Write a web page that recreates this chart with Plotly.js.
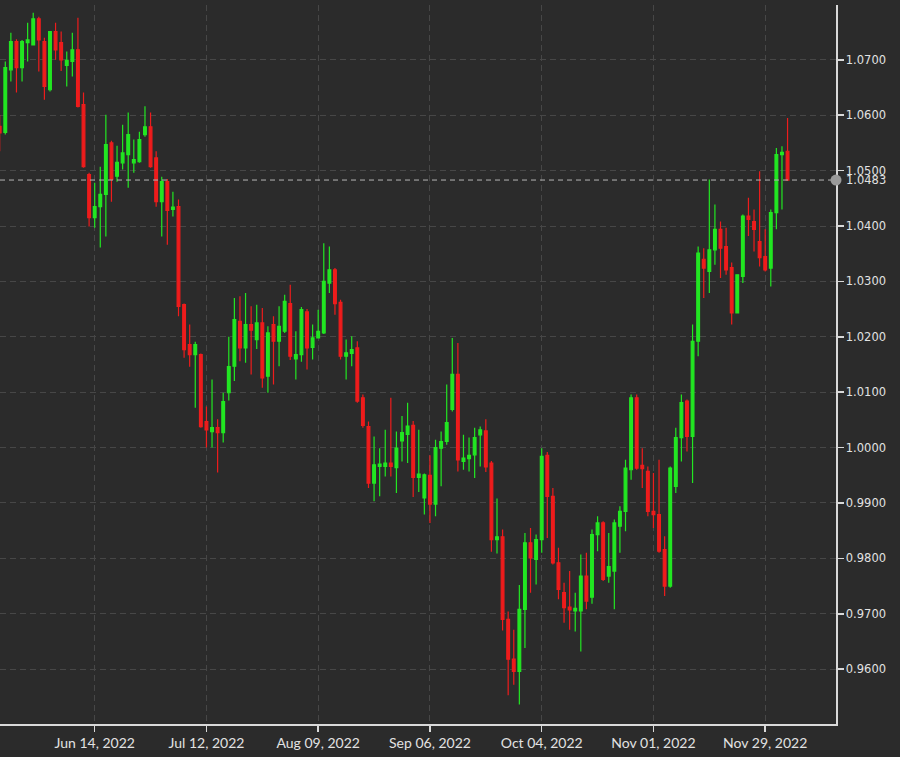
<!DOCTYPE html>
<html>
<head>
<meta charset="utf-8">
<script src="https://cdn.plot.ly/plotly-3.0.1.min.js"></script>
<style>
  html, body { margin: 0; padding: 0; background: #2b2b2b; }
  #chart { width: 900px; height: 757px; }
</style>
</head>
<body>
<div id="chart"></div>
<script>
// EUR/USD daily candles
const dates = [
  '2022-05-20','2022-05-23','2022-05-24','2022-05-25','2022-05-26','2022-05-27','2022-05-30','2022-05-31',
  '2022-06-01','2022-06-02','2022-06-03','2022-06-06','2022-06-07','2022-06-08','2022-06-09','2022-06-10',
  '2022-06-13','2022-06-14','2022-06-15','2022-06-16','2022-06-17','2022-06-20','2022-06-21','2022-06-22',
  '2022-06-23','2022-06-24','2022-06-27','2022-06-28','2022-06-29','2022-06-30','2022-07-01','2022-07-04',
  '2022-07-05','2022-07-06','2022-07-07','2022-07-08','2022-07-11','2022-07-12','2022-07-13','2022-07-14',
  '2022-07-15','2022-07-18','2022-07-19','2022-07-20','2022-07-21','2022-07-22','2022-07-25','2022-07-26',
  '2022-07-27','2022-07-28','2022-07-29','2022-08-01','2022-08-02','2022-08-03','2022-08-04','2022-08-05',
  '2022-08-08','2022-08-09','2022-08-10','2022-08-11','2022-08-12','2022-08-15','2022-08-16','2022-08-17',
  '2022-08-18','2022-08-19','2022-08-22','2022-08-23','2022-08-24','2022-08-25','2022-08-26','2022-08-29',
  '2022-08-30','2022-08-31','2022-09-01','2022-09-02','2022-09-05','2022-09-06','2022-09-07','2022-09-08',
  '2022-09-09','2022-09-12','2022-09-13','2022-09-14','2022-09-15','2022-09-16','2022-09-19','2022-09-20',
  '2022-09-21','2022-09-22','2022-09-23','2022-09-26','2022-09-27','2022-09-28','2022-09-29','2022-09-30',
  '2022-10-03','2022-10-04','2022-10-05','2022-10-06','2022-10-07','2022-10-10','2022-10-11','2022-10-12',
  '2022-10-13','2022-10-14','2022-10-17','2022-10-18','2022-10-19','2022-10-20','2022-10-21','2022-10-24',
  '2022-10-25','2022-10-26','2022-10-27','2022-10-28','2022-10-31','2022-11-01','2022-11-02','2022-11-03',
  '2022-11-04','2022-11-07','2022-11-08','2022-11-09','2022-11-10','2022-11-11','2022-11-14','2022-11-15',
  '2022-11-16','2022-11-17','2022-11-18','2022-11-21','2022-11-22','2022-11-23','2022-11-24','2022-11-25',
  '2022-11-28','2022-11-29','2022-11-30','2022-12-01','2022-12-02','2022-12-05'
];
const openP = [
  1.0580,1.0569,1.0682,1.0733,1.0686,1.0731,1.0727,1.0774,
  1.0733,1.0646,1.0751,1.0731,1.0690,1.0697,1.0718,1.0619,
  1.0493,1.0415,1.0435,1.0457,1.0550,1.0490,1.0514,1.0529,
  1.0514,1.0516,1.0565,1.0579,1.0523,1.0444,1.0480,1.0430,
  1.0435,1.0258,1.0186,1.0168,1.0168,1.0047,1.0029,1.0036,
  1.0027,1.0099,1.0147,1.0228,1.0180,1.0222,1.0195,1.0225,
  1.0129,1.0222,1.0192,1.0210,1.0260,1.0160,1.0168,1.0245,
  1.0181,1.0198,1.0207,1.0297,1.0321,1.0262,1.0165,1.0170,
  1.0180,1.0090,1.0038,0.9936,0.9966,0.9966,0.9972,0.9964,
  1.0012,1.0024,1.0040,0.9946,0.9909,0.9950,0.9898,0.9999,
  1.0011,1.0069,1.0132,0.9975,0.9980,0.9987,1.0023,1.0030,
  0.9972,0.9834,0.9839,0.9690,0.9618,0.9596,0.9708,0.9828,
  0.9798,0.9834,0.9986,0.9912,0.9792,0.9738,0.9712,0.9705,
  0.9705,0.9768,0.9730,0.9843,0.9864,0.9768,0.9777,0.9858,
  0.9885,0.9960,1.0090,0.9968,0.9957,0.9885,0.9879,0.9816,
  0.9750,0.9930,1.0018,1.0084,1.0020,1.0192,1.0340,1.0318,
  1.0357,1.0394,1.0363,1.0325,1.0243,1.0309,1.0418,1.0408,
  1.0372,1.0345,1.0324,1.0424,1.0529,1.0535
];
const highP = [
  1.0600,1.0697,1.0749,1.0737,1.0736,1.0767,1.0785,1.0778,
  1.0740,1.0751,1.0767,1.0751,1.0715,1.0749,1.0776,1.0641,
  1.0496,1.0478,1.0507,1.0601,1.0554,1.0545,1.0583,1.0605,
  1.0556,1.0570,1.0616,1.0605,1.0535,1.0489,1.0485,1.0462,
  1.0448,1.0260,1.0222,1.0191,1.0170,1.0074,1.0123,1.0051,
  1.0099,1.0200,1.0270,1.0273,1.0279,1.0255,1.0258,1.0252,
  1.0219,1.0237,1.0255,1.0276,1.0294,1.0210,1.0254,1.0250,
  1.0222,1.0249,1.0369,1.0363,1.0324,1.0267,1.0195,1.0201,
  1.0192,1.0096,1.0047,1.0020,0.9999,1.0032,1.0090,1.0029,
  1.0057,1.0081,1.0048,1.0032,0.9953,0.9986,1.0014,1.0029,
  1.0114,1.0198,1.0189,1.0023,1.0018,1.0036,1.0038,1.0051,
  0.9976,0.9908,0.9852,0.9704,0.9671,0.9752,0.9846,0.9855,
  0.9843,0.9999,0.9992,0.9927,0.9819,0.9756,0.9777,0.9738,
  0.9807,0.9810,0.9852,0.9876,0.9867,0.9846,0.9870,0.9894,
  0.9978,1.0096,1.0096,0.9999,0.9966,0.9954,0.9978,0.9840,
  0.9966,1.0036,1.0096,1.0087,1.0222,1.0363,1.0360,1.0484,
  1.0439,1.0408,1.0397,1.0334,1.0312,1.0421,1.0451,1.0430,
  1.0499,1.0394,1.0430,1.0541,1.0544,1.0595
];
const lowP = [
  1.0535,1.0565,1.0661,1.0641,1.0661,1.0697,1.0727,1.0679,
  1.0628,1.0643,1.0700,1.0680,1.0652,1.0670,1.0614,1.0505,
  1.0399,1.0397,1.0361,1.0381,1.0444,1.0480,1.0502,1.0469,
  1.0496,1.0514,1.0561,1.0505,1.0435,1.0381,1.0366,1.0417,
  1.0237,1.0162,1.0146,1.0072,1.0036,1.0000,1.0000,0.9955,
  1.0009,1.0085,1.0120,1.0156,1.0153,1.0132,1.0178,1.0108,
  1.0099,1.0114,1.0147,1.0207,1.0158,1.0123,1.0155,1.0141,
  1.0159,1.0197,1.0205,1.0279,1.0240,1.0159,1.0123,1.0147,
  1.0081,1.0036,0.9927,0.9903,0.9912,0.9948,0.9948,0.9918,
  0.9975,0.9972,0.9911,0.9920,0.9879,0.9864,0.9876,0.9930,
  1.0005,1.0065,0.9957,0.9960,0.9957,0.9945,0.9966,0.9956,
  0.9812,0.9809,0.9670,0.9553,0.9572,0.9536,0.9638,0.9738,
  0.9753,0.9810,0.9837,0.9789,0.9726,0.9684,0.9671,0.9668,
  0.9632,0.9708,0.9718,0.9813,0.9759,0.9756,0.9708,0.9810,
  0.9849,0.9942,0.9960,0.9927,0.9876,0.9855,0.9810,0.9732,
  0.9747,0.9918,0.9975,0.9993,0.9936,1.0165,1.0270,1.0279,
  1.0330,1.0306,1.0312,1.0222,1.0243,1.0297,1.0382,1.0354,
  1.0327,1.0318,1.0291,1.0394,1.0430,1.0483
];
const closeP = [
  1.0568,1.0686,1.0733,1.0686,1.0733,1.0736,1.0774,1.0736,
  1.0652,1.0751,1.0718,1.0700,1.0699,1.0718,1.0616,1.0507,
  1.0415,1.0435,1.0457,1.0547,1.0484,1.0515,1.0532,1.0565,
  1.0520,1.0556,1.0579,1.0507,1.0444,1.0480,1.0428,1.0434,
  1.0255,1.0177,1.0168,1.0186,1.0038,1.0032,1.0036,1.0027,
  1.0083,1.0146,1.0231,1.0180,1.0222,1.0212,1.0225,1.0126,
  1.0207,1.0192,1.0219,1.0264,1.0165,1.0168,1.0249,1.0180,
  1.0198,1.0210,1.0300,1.0321,1.0260,1.0165,1.0171,1.0177,
  1.0084,1.0040,0.9936,0.9969,0.9970,0.9972,0.9966,0.9999,
  1.0027,1.0039,0.9946,0.9952,0.9951,0.9898,1.0000,1.0011,
  1.0045,1.0132,0.9978,0.9981,0.9986,1.0018,1.0032,0.9965,
  0.9834,0.9839,0.9690,0.9618,0.9596,0.9708,0.9828,0.9801,
  0.9834,0.9984,0.9912,0.9792,0.9744,0.9711,0.9707,0.9710,
  0.9768,0.9723,0.9843,0.9864,0.9762,0.9785,0.9864,0.9885,
  0.9963,1.0090,0.9963,0.9962,0.9885,0.9879,0.9813,0.9750,
  0.9963,1.0018,1.0081,1.0020,1.0192,1.0351,1.0324,1.0357,
  1.0394,1.0360,1.0321,1.0243,1.0312,1.0418,1.0412,1.0394,
  1.0343,1.0321,1.0424,1.0529,1.0533,1.0483
];
const xTickVals = ['2022-06-14','2022-07-12','2022-08-09','2022-09-06','2022-10-04','2022-11-01','2022-11-29'];
const lastPrice = 1.0483;
const lastLabel = '1.0483';

const GREEN = '#22e622';
const RED = '#ee1c1c';
const GRID = '#474747';
const AXIS = '#d9d9d9';
const TXT = '#e2e2e2';

const trace = {
  type: 'candlestick',
  x: dates, open: openP, high: highP, low: lowP, close: closeP,
  increasing: { line: { color: GREEN, width: 1.2 }, fillcolor: GREEN },
  decreasing: { line: { color: RED, width: 1.2 }, fillcolor: RED },
  whiskerwidth: 0,
  hoverinfo: 'none',
  showlegend: false
};

const layout = {
  width: 900, height: 757,
  paper_bgcolor: '#2b2b2b', plot_bgcolor: '#2b2b2b',
  margin: { l: 0, r: 64, t: 5, b: 33 },
  showlegend: false,
  xaxis: {
    type: 'date',
    range: ['2022-05-20 01:18', '2022-12-15 16:05'],
    rangebreaks: [{ bounds: ['sat', 'mon'] }],
    rangeslider: { visible: false },
    tickvals: xTickVals,
    tickformat: '%b %d, %Y',
    showgrid: true, gridcolor: GRID, griddash: '6px,4px', gridwidth: 1,
    showline: true, linecolor: AXIS, linewidth: 1.5,
    ticks: 'outside', ticklen: 6, tickcolor: AXIS, tickwidth: 1.5,
    tickfont: { family: 'Lato, sans-serif', size: 14, color: TXT },
    zeroline: false, fixedrange: true
  },
  yaxis: {
    side: 'right',
    range: [0.9501, 1.0799],
    tick0: 0.96, dtick: 0.01, tickformat: '.4f',
    showgrid: true, gridcolor: GRID, griddash: '6px,4px', gridwidth: 1,
    showline: true, linecolor: AXIS, linewidth: 1.5,
    ticks: 'outside', ticklen: 6, tickcolor: AXIS, tickwidth: 1.5,
    tickfont: { family: 'DejaVu Sans, sans-serif', size: 11.5, color: TXT },
    zeroline: false, fixedrange: true
  },
  shapes: [
    { type: 'line', xref: 'paper', x0: 0, x1: 1, yref: 'y', y0: lastPrice, y1: lastPrice,
      line: { color: '#b5b5b5', width: 1, dash: '5px,4px' }, layer: 'above' },
    { type: 'circle', xref: 'paper', xsizemode: 'pixel', xanchor: 1, x0: -5.5, x1: 5.5,
      yref: 'y', ysizemode: 'pixel', yanchor: lastPrice, y0: -5.5, y1: 5.5,
      fillcolor: '#9a9a9a', line: { width: 0 }, layer: 'above' }
  ],
  annotations: [
    { xref: 'paper', x: 1, xanchor: 'left', xshift: 8, yref: 'y', y: lastPrice, yanchor: 'middle',
      text: lastLabel, showarrow: false, font: { family: 'DejaVu Sans, sans-serif', size: 11.5, color: TXT } }
  ]
};

Plotly.newPlot('chart', [trace], layout, { displayModeBar: false, staticPlot: true });
</script>
</body>
</html>
